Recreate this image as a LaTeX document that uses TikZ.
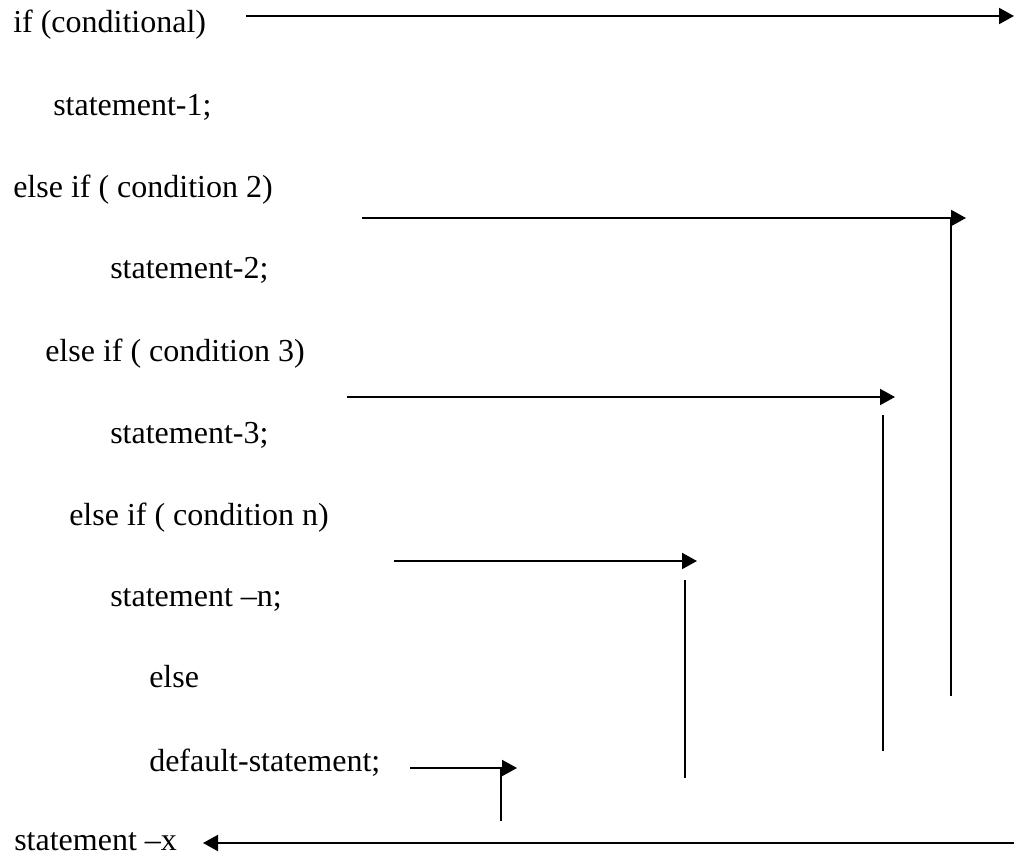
\documentclass[tikz,border=0pt]{standalone}
\usepackage{fontspec}
\setmainfont{Liberation Serif}
\usetikzlibrary{arrows.meta}
\begin{document}
\begin{tikzpicture}[x=0.75pt,y=-0.75pt,
  code/.style={anchor=base west,inner sep=0pt,font=\fontsize{24}{28}\selectfont},
  flow/.style={line width=1.5pt,-{Triangle[length=11.25pt,width=12pt]}},
  rail/.style={line width=1.2pt}]
\useasboundingbox (0,0) rectangle (1014,856);

% program text
\node[code] (if1)  at (13,33)  {if (conditional)};
\node[code] (s1)   at (53,115) {statement-1;};
\node[code] (if2)  at (13,197) {else if ( condition 2)};
\node[code] (s2)   at (110,278) {statement-2;};
\node[code] (if3)  at (45,361) {else if ( condition 3)};
\node[code] (s3)   at (110,443) {statement-3;};
\node[code] (ifn)  at (69,525) {else if ( condition n)};
\node[code] (sn)   at (110,606) {statement –n;};
\node[code] (els)  at (149,687) {else};
\node[code] (dflt) at (149,771) {default-statement;};
\node[code] (sx)   at (14,850) {statement –x};

% arrow end points
\coordinate (a1s) at (246,16);  \coordinate (a1e) at (1014,16);
\coordinate (a2s) at (362,218); \coordinate (a2e) at (966,218);
\coordinate (v2s) at (951,218); \coordinate (v2e) at (951,696);
\coordinate (a3s) at (347,397); \coordinate (a3e) at (895,397);
\coordinate (v3s) at (883,415); \coordinate (v3e) at (883,751);
\coordinate (ans) at (394,561); \coordinate (ane) at (697,561);
\coordinate (vns) at (685,580); \coordinate (vne) at (685,778);
\coordinate (ads) at (410,768); \coordinate (ade) at (517,768);
\coordinate (vds) at (501,768); \coordinate (vde) at (501,821);
\coordinate (axs) at (1014,843); \coordinate (axe) at (203,843);

% branches
\draw[flow] (a1s) -- (a1e);
\draw[flow] (a2s) -- (a2e);
\draw[rail] (v2s) -- (v2e);
\draw[flow] (a3s) -- (a3e);
\draw[rail] (v3s) -- (v3e);
\draw[flow] (ans) -- (ane);
\draw[rail] (vns) -- (vne);
\draw[flow] (ads) -- (ade);
\draw[rail] (vds) -- (vde);
\draw[flow] (axs) -- (axe);
\end{tikzpicture}
\end{document}
